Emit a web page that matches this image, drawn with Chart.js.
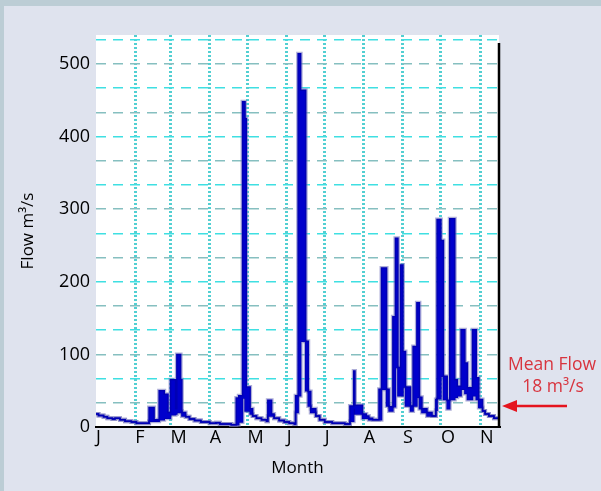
<!DOCTYPE html>
<html lang="en">
<head>
  <meta charset="UTF-8">
  <title>Flow hydrograph</title>
  <script src="https://cdn.jsdelivr.net/npm/chart.js"></script>
  <style>
    body { margin: 0; background: #dfe3ee; }
    #frame { position: relative; width: 601px; height: 491px; box-shadow: inset 4px 6px 0 0 #bccdd5; }
    canvas { position: absolute; left: 0; top: 0; }
  </style>
</head>
<body>
  <div id="frame"><canvas id="flowChart" width="601" height="491"></canvas></div>

  <script>
    // month starts (day of year) and their labels
    const monthStarts = [0, 31, 59, 90, 120, 151, 181, 212, 243, 273, 304];
    const monthLabels = ['J', 'F', 'M', 'A', 'M', 'J', 'J', 'A', 'S', 'O', 'N'];

    // daily flow, stepped: day where a value starts, upper and lower flow (m³/s)
    const days = [0, 2, 6, 9, 13, 15, 19, 23, 28, 32, 42, 46, 50, 54, 57, 59, 63, 64, 67, 68,
      71, 74, 78, 83, 90, 95, 98, 107, 111, 113, 116, 118, 119, 122, 124, 127, 131, 135, 136, 139,
      141, 145, 149, 153, 157, 158, 160, 162, 166, 168, 170, 174, 177, 181, 187, 197, 201, 204, 205, 211,
      214, 216, 219, 224, 226, 230, 232, 235, 237, 239, 241, 243, 245, 249, 251, 254, 256, 258, 262, 266,
      269, 270, 273, 275, 278, 280, 284, 286, 289, 292, 294, 298, 301, 303, 306, 308, 311, 315, 319];
    const upperFlow = [18, 16, 14, 12, 11, 12, 10, 8, 7, 5, 27, 10, 50, 45, 20, 65, 25, 100, 65, 20,
      14, 11, 9, 7, 5, 6, 4, 3, 40, 43, 448, 425, 55, 25, 15, 12, 10, 8, 37, 18,
      12, 9, 7, 5, 4, 43, 514, 464, 118, 49, 25, 15, 10, 7, 5, 4, 29, 77, 30, 18,
      15, 12, 10, 52, 219, 52, 28, 152, 260, 82, 223, 104, 55, 29, 111, 171, 41, 25, 20, 15,
      38, 286, 257, 70, 37, 287, 65, 56, 134, 88, 54, 134, 68, 38, 22, 18, 15, 12, 12];
    const lowerFlow = [18, 16, 14, 12, 11, 12, 10, 8, 7, 5, 8, 8, 10, 12, 12, 17, 18, 20, 22, 15,
      14, 11, 9, 7, 5, 6, 4, 3, 3, 7, 40, 22, 22, 18, 15, 12, 10, 8, 15, 15,
      12, 9, 7, 5, 4, 20, 43, 118, 50, 29, 20, 15, 10, 7, 5, 4, 8, 25, 18, 12,
      12, 10, 10, 10, 52, 29, 22, 28, 82, 43, 43, 55, 29, 22, 29, 41, 25, 20, 15, 15,
      23, 39, 70, 38, 25, 38, 41, 43, 52, 46, 38, 43, 38, 27, 22, 18, 15, 12, 12];

    const yMax = 540;
    const gridStep = 100 / 3;

    const pts = arr => days.map((d, i) => ({ x: d, y: arr[i] }));

    const plotBg = {
      id: 'plotBg',
      beforeDraw(chart) {
        const { ctx, chartArea: a } = chart;
        ctx.save();
        ctx.fillStyle = '#ffffff';
        ctx.fillRect(a.left, a.top, a.right - a.left, a.bottom - a.top);
        ctx.restore();
      },
      afterDraw(chart) {
        const { ctx, chartArea: a } = chart;
        ctx.save();
        // right frame line
        ctx.strokeStyle = '#000';
        ctx.lineWidth = 2.5;
        ctx.beginPath();
        ctx.moveTo(a.right, a.top + 8);
        ctx.lineTo(a.right, a.bottom);
        ctx.stroke();
        // mean flow note
        ctx.fillStyle = '#d8343e';
        ctx.font = '17.5px "Open Sans"';
        ctx.textAlign = 'center';
        ctx.textBaseline = 'middle';
        ctx.fillText('Mean Flow', a.right + 53, 365);
        ctx.fillText('18 m³/s', a.right + 54, 387);
        ctx.strokeStyle = '#e5141e';
        ctx.fillStyle = '#e5141e';
        ctx.lineWidth = 2.5;
        ctx.beginPath();
        ctx.moveTo(a.right + 68, 406);
        ctx.lineTo(a.right + 14, 406);
        ctx.stroke();
        ctx.beginPath();
        ctx.moveTo(a.right + 3, 406);
        ctx.lineTo(a.right + 18, 400);
        ctx.lineTo(a.right + 18, 412);
        ctx.closePath();
        ctx.fill();
        ctx.restore();
      }
    };

    new Chart(document.getElementById('flowChart'), {
      type: 'line',
      data: {
        datasets: [
          { data: pts(upperFlow), stepped: true, fill: '+1', backgroundColor: '#0000cc',
            borderColor: '#0000b4', borderWidth: 1.5, pointRadius: 0, order: 1 },
          { data: pts(lowerFlow), stepped: true, fill: false,
            borderColor: '#0000b4', borderWidth: 1.5, pointRadius: 0, order: 1 },
          { data: pts(upperFlow), stepped: true, fill: false,
            borderColor: 'rgba(120,120,190,0.6)', borderWidth: 4, pointRadius: 0, order: 2 },
          { data: pts(lowerFlow), stepped: true, fill: false,
            borderColor: 'rgba(120,120,190,0.6)', borderWidth: 4, pointRadius: 0, order: 2 }
        ]
      },
      options: {
        responsive: false,
        animation: false,
        layout: { padding: { left: 0, top: 35, right: 102, bottom: 0 } },
        plugins: { legend: { display: false }, tooltip: { enabled: false } },
        scales: {
          x: {
            type: 'linear',
            min: 0,
            max: 319,
            afterBuildTicks: s => { s.ticks = monthStarts.map(v => ({ value: v })); },
            afterFit: s => { s.height = 64; },
            ticks: {
              autoSkip: false, maxRotation: 0, align: 'start', padding: 0,
              color: '#000', font: { family: 'Open Sans', size: 18 },
              callback: (v, i) => monthLabels[i]
            },
            grid: {
              drawTicks: false,
              lineWidth: 3,
              color: c => c.tick && c.tick.value === 0 ? 'rgba(0,0,0,0)' : '#52cfd2'
            },
            border: { display: true, color: '#000', width: 2, dash: [2, 2] },
            title: {
              display: true, text: 'Month', color: '#000',
              font: { family: 'Open Sans', size: 17 }, padding: { top: 0, bottom: 13 }
            }
          },
          y: {
            min: 0,
            max: yMax,
            afterBuildTicks: s => {
              const t = [];
              for (let k = 0; k * gridStep <= yMax; k++) t.push({ value: k * gridStep });
              s.ticks = t;
            },
            afterFit: s => { s.width = 96; },
            ticks: {
              autoSkip: false,
              padding: 6, color: '#000', font: { family: 'Open Sans', size: 18 },
              callback: (v, i) => (i % 3 === 0 ? String(Math.round(v)) : '')
            },
            grid: {
              drawTicks: false,
              lineWidth: 1.5,
              color: c => {
                const k = Math.round(c.tick.value / gridStep);
                if (k === 0) return 'rgba(0,0,0,0)';
                return k % 2 ? '#86bfc0' : '#3fdfe2';
              }
            },
            border: { display: false, dash: [10, 7] },
            title: {
              display: true, text: 'Flow m³/s', color: '#000',
              font: { family: 'Open Sans', size: 17 }, padding: { top: 18, bottom: 0 }
            }
          }
        }
      },
      plugins: [plotBg]
    });
  </script>
</body>
</html>
